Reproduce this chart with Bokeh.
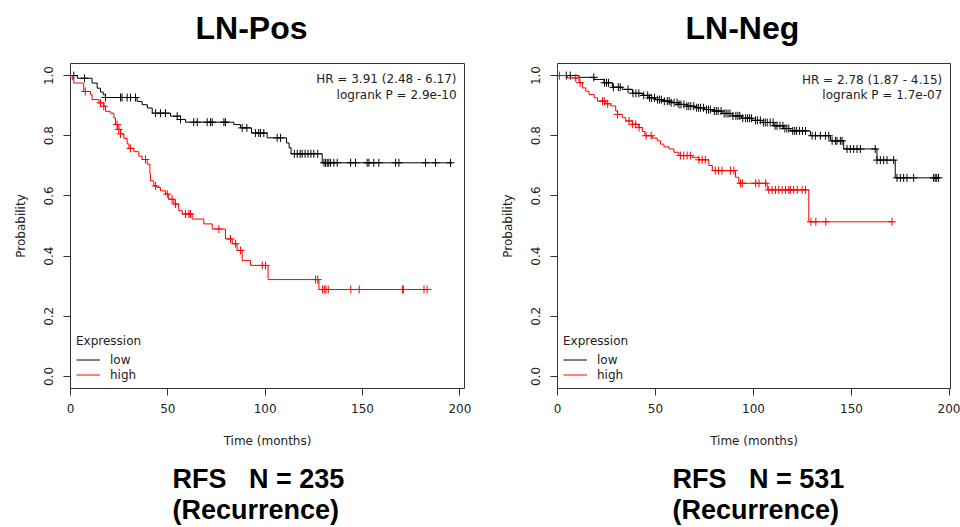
import numpy as np
from bokeh.plotting import figure
from bokeh.models import Range1d, Label, Legend, LegendItem, FixedTicker, PrintfTickFormatter, Title
from bokeh.layouts import row
from bokeh.embed import file_html
from bokeh.resources import INLINE

# ---------------- data ----------------
x_ticks = [0, 50, 100, 150, 200]
y_ticks = [0.0, 0.2, 0.4, 0.6, 0.8, 1.0]

# LN-Pos, low expression
pos_low_t = [0, 3.5, 11.1, 13.7, 15.4, 16.8, 18.0, 34.2, 36.8, 39.5, 42.0, 51.4, 56.5, 59.1,
             83.9, 87.3, 93.0, 101.0, 111.0, 112.3, 113.3, 129.3]
pos_low_s = [1.0, 0.991, 0.975, 0.958, 0.945, 0.936, 0.927, 0.914, 0.903, 0.892, 0.875, 0.865, 0.854, 0.845,
             0.837, 0.826, 0.809, 0.793, 0.776, 0.760, 0.740, 0.710]
pos_low_end = 196.0
pos_low_cens = [1.7, 7.2, 18.0, 25.7, 26.5, 29.1, 30.8, 33.4, 43.7, 46.2, 48.8, 54.8, 56.5, 63.3, 65.1,
                70.2, 71.9, 72.8, 78.8, 79.6, 88.2, 90.6, 95.0, 96.7, 97.6, 99.3, 106.2, 107.9, 115.0,
                116.5, 118.0, 119.0, 120.5, 122.0, 123.5, 125.0, 127.0, 130.2, 131.0, 131.9, 132.7,
                133.6, 135.3, 137.0, 143.9, 146.4, 152.4, 153.3, 155.8, 158.4, 167.0, 168.7, 182.4,
                187.5, 195.2]

# LN-Pos, high expression
pos_high_t = [0, 0.9, 1.7, 6.8, 10.3, 11.1, 14.6, 17.1, 18.0, 20.5, 22.3, 23.1, 24.3, 25.7, 27.4,
              29.1, 30.0, 32.5, 35.1, 36.8, 39.4, 40.8, 41.1, 42.8, 44.5, 46.2, 48.8, 50.5, 53.1,
              55.6, 57.4, 62.5, 68.5, 72.8, 79.6, 83.1, 85.6, 88.2, 92.5, 101.5, 127.6]
pos_high_s = [1.0, 0.986, 0.975, 0.947, 0.936, 0.920, 0.909, 0.898, 0.881, 0.875, 0.859, 0.837, 0.821,
              0.806, 0.791, 0.773, 0.758, 0.747, 0.732, 0.721, 0.705, 0.672, 0.650, 0.633, 0.628,
              0.617, 0.606, 0.589, 0.573, 0.551, 0.540, 0.523, 0.507, 0.490, 0.457, 0.441, 0.419,
              0.385, 0.369, 0.322, 0.289]
pos_high_end = 183.2
pos_high_cens = [7.6, 15.4, 17.1, 23.9, 24.8, 25.7, 30.8, 38.5, 43.7, 49.7, 52.2, 53.9, 59.1, 60.8,
                 61.6, 76.2, 82.2, 84.8, 87.3, 98.5, 100.2, 125.9, 127.0, 129.5, 130.4, 131.2, 132.4,
                 144.0, 148.3, 170.5, 171.0, 181.6, 183.2]

# LN-Neg, low expression
neg_low_t = [0, 11.0, 18.7, 23.7, 28.0, 33.1, 38.2, 43.3, 46.7, 50.0, 53.5, 58.0, 62.0, 66.0, 70.5,
             75.0, 79.0, 84.0, 89.2, 94.0, 99.3, 103.6, 110.3, 115.4, 118.8, 129.0, 139.2, 146.0,
             163.0, 172.3]
neg_low_s = [1.0, 0.994, 0.987, 0.976, 0.961, 0.954, 0.941, 0.934, 0.926, 0.920, 0.915, 0.910, 0.904,
             0.898, 0.893, 0.887, 0.882, 0.874, 0.866, 0.858, 0.851, 0.844, 0.833, 0.824, 0.816,
             0.800, 0.783, 0.756, 0.719, 0.660]
neg_low_end = 194.4
neg_low_cens = [4.5, 6.5, 18.5, 24.0, 25.0, 26.0, 28.5, 31.0, 32.0, 36.0, 38.5, 40.0, 41.5, 44.0, 46.0,
                47.0, 48.0, 49.5, 51.0, 52.0, 53.0, 54.5, 56.0, 57.0, 58.0, 59.5, 61.0, 62.0, 63.0,
                64.5, 66.0, 67.0, 68.0, 69.5, 71.0, 72.0, 73.0, 74.5, 76.0, 77.0, 78.0, 80.0, 81.0,
                82.0, 83.5, 85.0, 86.0, 87.0, 88.0, 89.5, 91.0, 92.0, 93.0, 94.5, 96.0, 97.0, 98.0,
                99.0, 101.0, 102.0, 103.5, 105.0, 106.0, 107.0, 108.5, 110.0, 111.0, 112.0, 113.5,
                115.0, 116.0, 117.0, 118.0, 120.0, 121.0, 122.0, 123.5, 125.0, 126.5, 129.9, 131.6,
                134.1, 136.7, 138.4, 140.1, 141.8, 142.6, 144.3, 145.2, 147.7, 149.4, 151.1, 152.8,
                154.5, 162.1, 163.0, 164.7, 166.4, 168.1, 171.5, 173.2, 174.9, 176.6, 178.3, 181.7,
                191.9, 192.7, 193.5, 194.4]

# LN-Neg, high expression
neg_high_t = [0, 5.1, 11.0, 12.7, 14.4, 16.1, 18.7, 20.4, 24.6, 27.2, 29.7, 30.6, 33.1, 34.8, 38.2,
              41.6, 43.3, 44.6, 48.4, 50.9, 52.6, 54.3, 56.9, 59.4, 61.9, 68.8, 72.1, 77.2, 79.0,
              90.8, 92.5, 107.0, 128.2]
neg_high_s = [1.0, 0.992, 0.976, 0.959, 0.948, 0.937, 0.926, 0.915, 0.906, 0.899, 0.882, 0.871, 0.860,
              0.849, 0.838, 0.827, 0.814, 0.800, 0.792, 0.783, 0.772, 0.763, 0.756, 0.745, 0.734,
              0.728, 0.720, 0.701, 0.684, 0.662, 0.642, 0.620, 0.514]
neg_high_end = 170.7
neg_high_cens = [1.0, 9.3, 11.5, 23.0, 23.9, 25.6, 30.6, 36.5, 38.2, 39.9, 41.6, 45.2, 47.8, 62.7,
                 64.4, 66.1, 67.8, 72.1, 73.8, 75.4, 80.5, 82.2, 83.9, 88.3, 90.0, 93.4, 94.3,
                 101.1, 102.8, 106.2, 107.8, 109.5, 111.2, 112.9, 114.6, 116.3, 118.0, 118.8, 120.5,
                 122.3, 124.8, 126.5, 129.3, 131.8, 136.9, 170.7]

panels = [
    dict(title="LN-Pos", n_text="RFS\u00a0\u00a0\u00a0N = 235\n(Recurrence)", hr="HR = 3.91 (2.48 - 6.17)",
         p_text="logrank P = 2.9e-10", xmax=202.4,
         low=(pos_low_t, pos_low_s, pos_low_end, pos_low_cens),
         high=(pos_high_t, pos_high_s, pos_high_end, pos_high_cens),
         borders=(70, 16, 62, 138),
         title_off=125, n_off=102,
         hr_x=198.3, hr_y1=0.987, hr_y2=0.9366),
    dict(title="LN-Neg", n_text="RFS\u00a0\u00a0\u00a0N = 531\n(Recurrence)", hr="HR = 2.78 (1.87 - 4.15)",
         p_text="logrank P = 1.7e-07", xmax=200.5,
         low=(neg_low_t, neg_low_s, neg_low_end, neg_low_cens),
         high=(neg_high_t, neg_high_s, neg_high_end, neg_high_cens),
         borders=(77, 10, 63, 138),
         title_off=128, n_off=115,
         hr_x=196.3, hr_y1=0.9836, hr_y2=0.936),
]

FONT = "DejaVu Sans"
BOLD = "Liberation Sans"


def surv_at(times, surv, tq):
    idx = np.searchsorted(np.asarray(times), np.asarray(tq), side="right") - 1
    return np.asarray(surv)[idx]


def make_panel(cfg):
    bl, br, bt, bb = cfg["borders"]
    p = figure(width=480, height=527, x_range=Range1d(0, cfg["xmax"]), y_range=Range1d(-0.04, 1.04),
               output_backend="svg", toolbar_location=None,
               min_border_left=bl, min_border_right=br, min_border_top=bt, min_border_bottom=bb)
    p.xgrid.visible = False
    p.ygrid.visible = False
    p.outline_line_color = "#333333"
    p.outline_line_width = 1
    p.background_fill_color = "white"
    p.border_fill_color = "white"

    p.xaxis.ticker = FixedTicker(ticks=x_ticks)
    p.yaxis.ticker = FixedTicker(ticks=y_ticks)
    p.yaxis.formatter = PrintfTickFormatter(format="%.1f")
    p.yaxis.major_label_orientation = "vertical"
    for ax in (p.xaxis[0], p.yaxis[0]):
        ax.axis_line_color = None
        ax.major_tick_out = 7
        ax.major_tick_in = 0
        ax.major_tick_line_color = "#333333"
        ax.minor_tick_line_color = None
        ax.major_label_text_font = FONT
        ax.major_label_text_font_size = "12px"
        ax.major_label_text_color = "#222222"
        ax.axis_label_text_font = FONT
        ax.axis_label_text_font_size = "12px"
        ax.axis_label_text_font_style = "normal"
        ax.axis_label_text_color = "#222222"
    p.xaxis.axis_label = "Time (months)"
    p.yaxis.axis_label = "Probability"
    p.xaxis.major_label_standoff = 8
    p.yaxis.major_label_standoff = 10
    p.xaxis.axis_label_standoff = 18
    p.yaxis.axis_label_standoff = 14

    renderers = {}
    for key, color in (("low", "black"), ("high", "red")):
        t, s, end, cens = cfg[key]
        xs = list(t) + [end]
        ys = list(s) + [s[-1]]
        r = p.step(x=xs, y=ys, mode="after", line_color=color, line_width=1)
        p.scatter(x=cens, y=surv_at(t, s, cens), marker="cross", size=8,
                  line_color=color, line_width=1)
        renderers[key] = r

    legend = Legend(items=[LegendItem(label="low", renderers=[renderers["low"]]),
                           LegendItem(label="high", renderers=[renderers["high"]])],
                    title="Expression", location=(6, 6))
    legend.title_text_font = FONT
    legend.title_text_font_size = "12px"
    legend.title_text_font_style = "normal"
    legend.title_text_color = "#222222"
    legend.title_standoff = 4
    legend.label_text_font = FONT
    legend.label_text_font_size = "12px"
    legend.label_text_color = "#222222"
    legend.glyph_width = 24
    legend.glyph_height = 15
    legend.label_height = 15
    legend.label_standoff = 10
    legend.spacing = 0
    legend.padding = 0
    legend.margin = 0
    legend.background_fill_alpha = 0
    legend.border_line_color = None
    p.add_layout(legend)

    for txt, yy in ((cfg["hr"], cfg["hr_y1"]), (cfg["p_text"], cfg["hr_y2"])):
        p.add_layout(Label(x=cfg["hr_x"], y=yy, text=txt, text_align="right", text_baseline="middle",
                           text_font=FONT, text_font_size="12px", text_color="#222222"))

    # spacer panels (blank titles) to position the headline texts like the reference
    p.add_layout(Title(text="\u00a0", text_font_size="10px", standoff=0), "above")
    p.add_layout(Title(text=cfg["title"], align="left", offset=cfg["title_off"], standoff=10,
                       text_font=BOLD, text_font_size="32px", text_font_style="bold",
                       text_color="black"), "above")
    p.add_layout(Title(text="\u00a0", text_font_size="6px", standoff=0), "below")
    p.add_layout(Title(text=cfg["n_text"], align="left", offset=cfg["n_off"], standoff=5,
                       text_line_height=1.05,
                       text_font=BOLD, text_font_size="27px", text_font_style="bold",
                       text_color="black"), "below")
    return p


p = row(make_panel(panels[0]), make_panel(panels[1]))
open("out.html", "w").write(file_html(p, INLINE))
